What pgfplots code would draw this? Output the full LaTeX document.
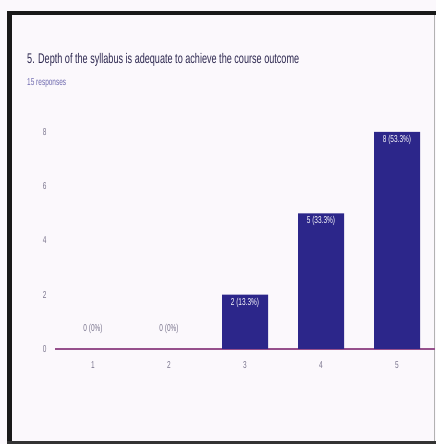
\documentclass[border=0pt]{standalone}
\usepackage{fontspec}
\setmainfont{Liberation Sans}
\newfontfamily\cond[FakeStretch=0.65]{Liberation Sans}
\usepackage{pgfplots}
\pgfplotsset{compat=1.18}
\definecolor{bg}{RGB}{251,248,252}
\definecolor{barc}{RGB}{44,38,138}
\definecolor{titlec}{RGB}{45,40,80}
\definecolor{subc}{RGB}{110,105,175}
\definecolor{tickc}{RGB}{120,115,140}
\definecolor{basec}{RGB}{150,80,140}
\begin{document}
\begin{tikzpicture}
\path[use as bounding box] (0pt,0pt) rectangle (436pt,444pt);
\fill[bg] (0pt,0pt) rectangle (436pt,444pt);
% frame
\fill[black!90] (7pt,0pt) rectangle (12pt,433pt);
\fill[black!90] (7pt,429pt) rectangle (436pt,433pt);
\fill[black!80] (7pt,0pt) rectangle (436pt,3pt);
\draw[gray!60, line width=0.8pt] (434pt,3pt) -- (434pt,429pt);
% titles
\node[anchor=base west, inner sep=0, text=titlec, font=\cond\fontsize{14}{14}\selectfont] at (27pt,380pt) {5. Depth of the syllabus is adequate to achieve the course outcome};
\node[anchor=base west, inner sep=0, text=subc, font=\cond\fontsize{10}{10}\selectfont] at (27pt,358pt) {15 responses};
\begin{axis}[
  at={(55pt,95pt)}, anchor=south west,
  scale only axis, width=380pt, height=230.6pt,
  xmin=0.5, xmax=5.5, ymin=0, ymax=8.5,
  axis x line*=bottom, axis y line=none,
  x axis line style={draw=basec, line width=1.6pt},
  xtick={1,2,3,4,5}, ytick={0,2,4,6,8},
  major tick length=0pt,
  ymajorgrids, grid style={draw=gray!6, line width=0.6pt},
  ticklabel style={font=\cond\fontsize{10}{10}\selectfont, text=tickc},
  /pgf/number format/assume math mode=true,
  xticklabel style={yshift=-9pt},
  clip=false,
]
\addplot[ybar, bar width=46pt, fill=barc, draw=none,
  point meta=explicit symbolic,
  nodes near coords,
  every node near coord/.style={anchor=north, yshift=-3pt, text=white, font=\cond\fontsize{10}{10}\selectfont, inner sep=0pt}]
  coordinates {(3,2)[2 (13.3\%)] (4,5)[5 (33.3\%)] (5,8)[8 (53.3\%)]};
\addplot[draw=none, mark=none,
  point meta=explicit symbolic,
  nodes near coords,
  every node near coord/.style={anchor=south, yshift=15pt, text=tickc, font=\cond\fontsize{10}{10}\selectfont, inner sep=0pt}]
  coordinates {(1,0)[0 (0\%)] (2,0)[0 (0\%)]};
\end{axis}
\begin{axis}[
  at={(55pt,95pt)}, anchor=south west,
  scale only axis, width=380pt, height=230.6pt,
  xmin=0.5, xmax=5.5, ymin=0, ymax=8.5,
  axis x line=none, axis y line*=left, y axis line style={draw=none},
  ytick={0,2,4,6,8}, major tick length=0pt,
  ticklabel style={font=\cond\fontsize{10}{10}\selectfont, text=tickc},
  /pgf/number format/assume math mode=true,
  yticklabel style={xshift=-5pt},
]
\addplot[draw=none] coordinates {(1,0)};
\end{axis}
\end{tikzpicture}
\end{document}
